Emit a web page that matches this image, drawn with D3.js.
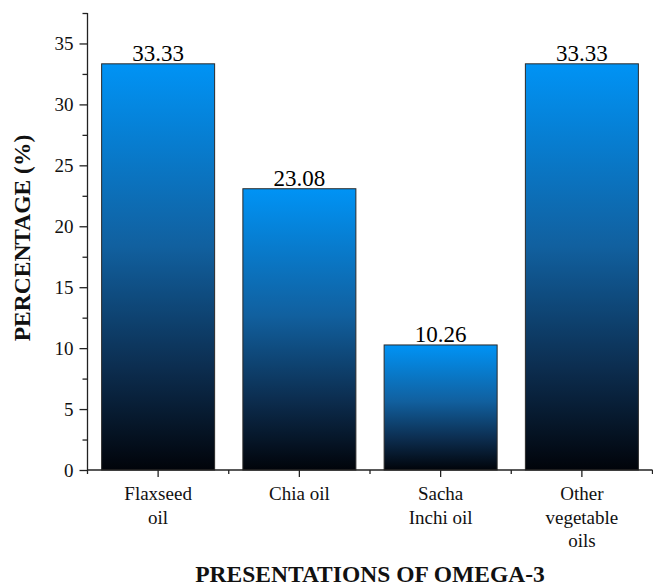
<!DOCTYPE html>
<html>
<head>
<meta charset="utf-8">
<script src="https://cdn.jsdelivr.net/npm/d3@7"></script>
<style>
  html, body { margin: 0; padding: 0; background: #fff; }
  svg { display: block; }
  svg text { font-family: "Liberation Serif", "Times New Roman", serif !important; }
</style>
</head>
<body>
<svg id="chart" width="653" height="587"></svg>
<script>
// Omega-3 presentations and their share (%)
const categories = ["Flaxseed\noil", "Chia oil", "Sacha\nInchi oil", "Other\nvegetable\noils"];
const values = [33.33, 23.08, 10.26, 33.33];
const yTicks = [0, 5, 10, 15, 20, 25, 30, 35];
const yMinorTicks = [2.5, 7.5, 12.5, 17.5, 22.5, 27.5, 32.5, 37.5];

const svg = d3.select("#chart");
const plotLeft = 87.5, plotRight = 652.5, plotTop = 13, plotBottom = 470;

const x = d3.scaleBand().domain(categories).range([plotLeft, plotRight])
  .paddingInner(0.2).paddingOuter(0.1);
const y = d3.scaleLinear().domain([0, 37.5]).range([plotBottom, plotTop]);

// vertical blue-to-black fill, one per bar
const defs = svg.append("defs");
const grad = defs.append("linearGradient").attr("id", "barFill")
  .attr("x1", 0).attr("y1", 0).attr("x2", 0).attr("y2", 1);
grad.append("stop").attr("offset", "0%").attr("stop-color", "#0093f5");
grad.append("stop").attr("offset", "45%").attr("stop-color", "#11609f");
grad.append("stop").attr("offset", "75%").attr("stop-color", "#0c2d4f");
grad.append("stop").attr("offset", "100%").attr("stop-color", "#01040a");

svg.append("g").selectAll("rect").data(values).join("rect")
  .attr("x", (d, i) => x(categories[i]))
  .attr("y", d => y(d))
  .attr("width", x.bandwidth())
  .attr("height", d => y(0) - y(d))
  .attr("fill", "url(#barFill)")
  .attr("stroke", "#2a2a2a")
  .attr("stroke-width", 1);

// value labels
svg.append("g").selectAll("text").data(values).join("text")
  .attr("x", (d, i) => x(categories[i]) + x.bandwidth() / 2)
  .attr("y", d => y(d) - 3)
  .attr("text-anchor", "middle")
  .attr("font-size", 23)
  .attr("fill", "#000")
  .text(d => d.toFixed(2));

// y axis
const yAxis = svg.append("g").attr("transform", `translate(${plotLeft},0)`)
  .call(d3.axisLeft(y).tickValues(yTicks).tickSize(8).tickPadding(6).tickFormat(d3.format("d")));
yAxis.select(".domain").attr("d", `M0,${y(37.5)}V${plotBottom}`);
yAxis.selectAll("text").attr("font-size", 19).attr("fill", "#111");
yAxis.selectAll("line, path").attr("stroke", "#222").attr("stroke-width", 1.3);
svg.append("g").attr("transform", `translate(${plotLeft},0)`)
  .call(d3.axisLeft(y).tickValues(yMinorTicks).tickSize(5).tickFormat(""))
  .call(g => g.select(".domain").remove())
  .selectAll("line").attr("stroke", "#222").attr("stroke-width", 1.3);

// x axis: major ticks at bar centres, minor ticks between groups
const xAxis = svg.append("g").attr("transform", `translate(0,${plotBottom})`)
  .call(d3.axisBottom(x).tickSize(7).tickFormat(""));
xAxis.select(".domain").attr("d", `M${plotLeft},0H${plotRight}`);
xAxis.selectAll("line, path").attr("stroke", "#222").attr("stroke-width", 1.3);
const bounds = d3.range(categories.length + 1).map(i => plotLeft + i * x.step());
svg.append("g").attr("transform", `translate(0,${plotBottom})`)
  .selectAll("line").data(bounds).join("line")
  .attr("x1", d => d).attr("x2", d => d).attr("y1", 0).attr("y2", 4)
  .attr("stroke", "#222").attr("stroke-width", 1.3);

// category labels (multi-line)
const catLabels = svg.append("g").selectAll("text").data(categories).join("text")
  .attr("text-anchor", "middle")
  .attr("font-size", 19)
  .attr("fill", "#111");
catLabels.each(function(d) {
  const t = d3.select(this);
  const cx = x(d) + x.bandwidth() / 2;
  d.split("\n").forEach((line, i) => {
    t.append("tspan").attr("x", cx).attr("y", 500 + i * 23.5).text(line);
  });
});

// axis titles
svg.append("text")
  .attr("x", (plotLeft + plotRight) / 2).attr("y", 582)
  .attr("text-anchor", "middle")
  .attr("font-size", 23.5).attr("font-weight", "bold").attr("fill", "#111")
  .text("PRESENTATIONS OF OMEGA-3");

svg.append("text")
  .attr("transform", `translate(30,238) rotate(-90)`)
  .attr("text-anchor", "middle")
  .attr("font-size", 23.5).attr("font-weight", "bold").attr("fill", "#111")
  .text("PERCENTAGE (%)");
</script>
</body>
</html>
